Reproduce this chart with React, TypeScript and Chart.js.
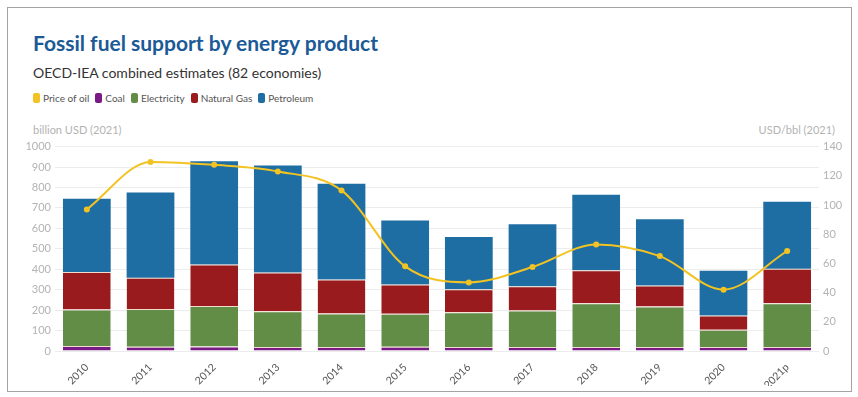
import React, { useEffect, useRef } from "react";
import { Chart, registerables } from "chart.js";

Chart.register(...registerables);

const categories = ["2010", "2011", "2012", "2013", "2014", "2015", "2016", "2017", "2018", "2019", "2020", "2021p"];
const coal = [24, 21, 22, 20, 20, 21, 20, 20, 20, 20, 20, 20];
const electricity = [179, 185, 198, 175, 164, 161, 170, 178, 213, 198, 84, 213];
const naturalGas = [184, 152, 203, 189, 166, 143, 112, 119, 162, 102, 70, 170];
const petroleum = [358, 417, 505, 524, 468, 313, 256, 303, 370, 325, 219, 327];
const priceOfOil = [97, 129.5, 127.5, 123, 110, 58, 47, 57.5, 73, 65, 42, 68.5];

const COLORS = {
  oil: "#f2c322",
  coal: "#7a1a86",
  electricity: "#628d47",
  gas: "#9a1b1d",
  petroleum: "#1f6ea3",
};

const FONT = "Lato, 'Open Sans', sans-serif";

const legendItems = [
  { label: "Price of oil", color: COLORS.oil },
  { label: "Coal", color: COLORS.coal },
  { label: "Electricity", color: COLORS.electricity },
  { label: "Natural Gas", color: COLORS.gas },
  { label: "Petroleum", color: COLORS.petroleum },
];

export default function App() {
  const canvasRef = useRef<HTMLCanvasElement | null>(null);

  useEffect(() => {
    if (!canvasRef.current) return;
    const segBorder = "#f1dccd";
    const barCommon = {
      type: "bar" as const,
      yAxisID: "y",
      order: 1,
      borderColor: segBorder,
      borderWidth: { top: 1, bottom: 0, left: 0, right: 0 },
      borderSkipped: false,
      categoryPercentage: 1,
      barPercentage: 0.75,
    };
    const chart = new Chart(canvasRef.current, {
      data: {
        labels: categories,
        datasets: [
          {
            type: "line",
            label: "Price of oil",
            data: priceOfOil,
            yAxisID: "y2",
            order: 0,
            borderColor: COLORS.oil,
            backgroundColor: COLORS.oil,
            borderWidth: 2,
            pointRadius: 3,
            pointBackgroundColor: COLORS.oil,
            pointBorderWidth: 0,
            cubicInterpolationMode: "monotone",
          },
          { ...barCommon, label: "Coal", data: coal, backgroundColor: COLORS.coal },
          { ...barCommon, label: "Electricity", data: electricity, backgroundColor: COLORS.electricity },
          { ...barCommon, label: "Natural Gas", data: naturalGas, backgroundColor: COLORS.gas },
          { ...barCommon, label: "Petroleum", data: petroleum, backgroundColor: COLORS.petroleum, borderWidth: 0 },
        ] as any,
      },
      options: {
        animation: false,
        responsive: false,
        maintainAspectRatio: false,
        layout: { padding: { top: 10, left: 0, right: 0, bottom: 0 } },
        plugins: { legend: { display: false }, tooltip: { enabled: false } },
        scales: {
          x: {
            stacked: true,
            grid: { display: false },
            border: { display: false },
            ticks: {
              minRotation: 45,
              maxRotation: 45,
              color: "#555",
              font: { family: FONT, size: 10.5 },
              padding: 2,
            },
            afterFit: (s: any) => {
              s.height = 35;
            },
          },
          y: {
            stacked: true,
            position: "left",
            min: 0,
            max: 1000,
            ticks: {
              stepSize: 100,
              color: "#b3b3b3",
              font: { family: FONT, size: 11 },
              padding: 4,
              callback: (v: any) => String(v),
            },
            grid: { color: "#ececec", drawTicks: false },
            border: { display: false },
            afterFit: (s: any) => {
              s.width = 34;
            },
          },
          y2: {
            position: "right",
            min: 0,
            max: 140,
            ticks: {
              stepSize: 20,
              color: "#b3b3b3",
              font: { family: FONT, size: 11 },
              padding: 4,
              callback: (v: any) => String(v),
            },
            grid: { display: false, drawTicks: false },
            border: { display: false },
            afterFit: (s: any) => {
              s.width = 27;
            },
          },
        },
      } as any,
    });
    return () => chart.destroy();
  }, []);

  return (
    <div
      style={{
        position: "absolute",
        left: 7,
        top: 7,
        width: 843,
        height: 383,
        border: "1px solid #a3a3a3",
        background: "#fff",
        fontFamily: FONT,
      }}
    >
      <div
        style={{
          position: "absolute",
          left: 25,
          top: 22,
          fontSize: 21,
          fontWeight: 700,
          color: "#1b5a96",
          whiteSpace: "nowrap",
        }}
      >
        Fossil fuel support by energy product
      </div>
      <div
        style={{
          position: "absolute",
          left: 25,
          top: 56,
          fontSize: 14,
          color: "#333",
          whiteSpace: "nowrap",
        }}
      >
        OECD-IEA combined estimates (82 economies)
      </div>
      <div
        style={{
          position: "absolute",
          left: 25,
          top: 84,
          fontSize: 10,
          color: "#555",
          display: "flex",
          alignItems: "center",
          whiteSpace: "nowrap",
        }}
      >
        {legendItems.map((it) => (
          <span key={it.label} style={{ display: "inline-flex", alignItems: "center", marginRight: 6 }}>
            <span
              style={{
                display: "inline-block",
                width: 7,
                height: 10,
                borderRadius: 2,
                background: it.color,
                marginRight: 3,
              }}
            />
            {it.label}
          </span>
        ))}
      </div>
      <div
        style={{
          position: "absolute",
          left: 25,
          top: 115,
          fontSize: 11,
          color: "#b3b3b3",
          whiteSpace: "nowrap",
        }}
      >
        billion USD (2021)
      </div>
      <div
        style={{
          position: "absolute",
          right: 16,
          top: 115,
          fontSize: 11,
          color: "#b3b3b3",
          whiteSpace: "nowrap",
        }}
      >
        USD/bbl (2021)
      </div>
      <canvas
        ref={canvasRef}
        width={825}
        height={250}
        style={{ position: "absolute", left: 13, top: 128, width: 825, height: 250 }}
      />
    </div>
  );
}
